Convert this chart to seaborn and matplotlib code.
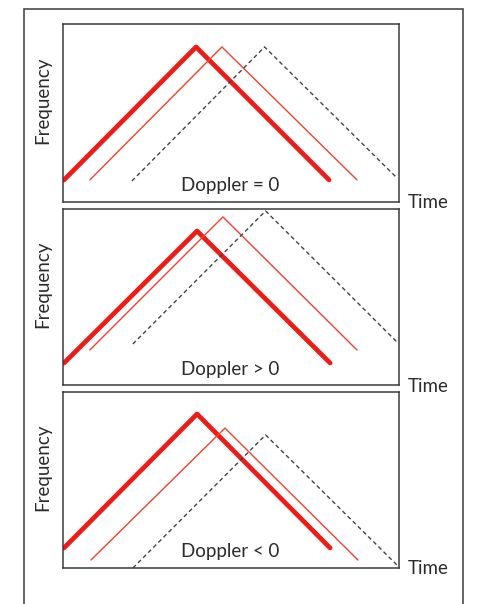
import matplotlib
matplotlib.use("Agg")
import matplotlib.pyplot as plt
import seaborn as sns
from matplotlib.patches import Rectangle

sns.set_theme(style="white")
plt.rcParams['font.family'] = ['Lato', 'DejaVu Sans']

# Data (time, frequency) for each panel (0..10 scale)
panel_titles = ["Doppler = 0", "Doppler > 0", "Doppler < 0"]

tx_time = [[0.03, 3.96, 7.92], [0.03, 3.99, 7.95], [0.03, 3.99, 7.95]]
tx_freq = [[1.24, 8.71, 1.24], [1.25, 8.75, 1.25], [1.14, 8.75, 1.14]]

echo_time = [[0.80, 4.73, 8.75], [0.80, 4.76, 8.75], [0.83, 4.82, 8.78]]
echo_freq = [[1.24, 8.71, 1.24], [1.99, 9.55, 1.99], [0.45, 7.95, 0.45]]

ref_time = [[2.05, 6.00, 9.94], [2.08, 6.03, 9.94], [2.08, 6.03, 9.94]]
ref_freq = [[1.18, 8.71, 1.35], [2.33, 9.89, 2.44], [0.00, 7.56, 0.17]]

W, H = 479, 604
fig = plt.figure(figsize=(W / 100, H / 100), dpi=100)

# outer frame
fig.patches.append(Rectangle((24 / W, -0.01), (463 - 24) / W, (604 - 9) / H + 0.01,
                             transform=fig.transFigure, fill=False,
                             edgecolor="#4a4a4a", linewidth=1.2))

panel_px = [(24, 202), (209, 385), (392, 568)]
text_c = "#2b2b2b"
fs = 13.5

for i, (top, bot) in enumerate(panel_px):
    ax = fig.add_axes([63 / W, (H - bot) / H, 336 / W, (bot - top) / H])
    sns.lineplot(x=tx_time[i], y=tx_freq[i], ax=ax, sort=False, color="#ee1c17",
                 linewidth=3.4, estimator=None)
    sns.lineplot(x=echo_time[i], y=echo_freq[i], ax=ax, sort=False, color="#f2402e",
                 linewidth=1.0, estimator=None)
    sns.lineplot(x=ref_time[i], y=ref_freq[i], ax=ax, sort=False, color="#444444",
                 linewidth=1.0, estimator=None, linestyle=(0, (3.0, 2.2)))
    ax.set_xlim(0, 10)
    ax.set_ylim(0, 10)
    ax.set_xticks([])
    ax.set_yticks([])
    ax.set_xlabel("")
    ax.set_ylabel("")
    for s in ax.spines.values():
        s.set_visible(True)
        s.set_color("#3a3a3a")
        s.set_linewidth(1.1)
    ax.text(4.98, 16 / (bot - top) * 10, panel_titles[i], ha="center", va="center",
            fontsize=fs, color=text_c)
    fig.text(43 / W, (H - ((top + bot) / 2 - 13)) / H, "Frequency", rotation=90,
             ha="center", va="center", fontsize=fs, color=text_c)
    fig.text(408 / W, (H - (bot + 1)) / H, "Time", ha="left", va="center",
             fontsize=fs, color=text_c)

fig.savefig("out.png", dpi=100, facecolor="white")
